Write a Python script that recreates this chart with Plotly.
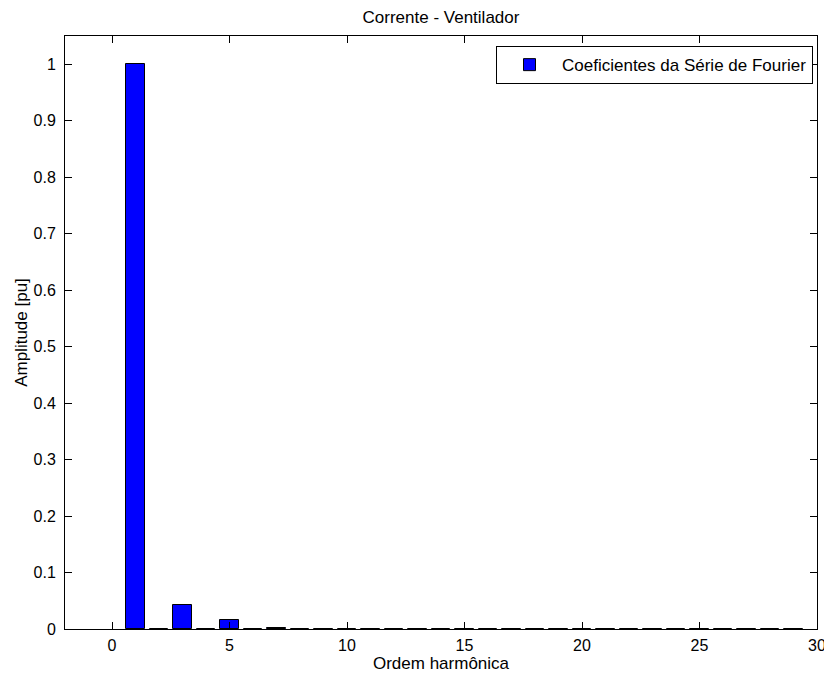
import plotly.graph_objects as go

orders = list(range(1, 30))
amplitudes = [1.0, 0.0005, 0.0425, 0.0006, 0.0165, 0.0005, 0.0025, 0.0005, 0.0008,
              0.0005, 0.0006, 0.0004, 0.0005, 0.0004, 0.0005, 0.0004, 0.0004, 0.0004,
              0.0004, 0.0004, 0.0004, 0.0004, 0.0004, 0.0004, 0.0004, 0.0004, 0.0004,
              0.0004, 0.0004]
x_ticks = [0, 5, 10, 15, 20, 25, 30]
y_ticks = [0, 0.1, 0.2, 0.3, 0.4, 0.5, 0.6, 0.7, 0.8, 0.9, 1]
y_tick_text = ["0", "0.1", "0.2", "0.3", "0.4", "0.5", "0.6", "0.7", "0.8", "0.9", "1"]

family = "Liberation Sans, Arial, Helvetica, sans-serif"
tick_font = dict(family=family, size=16, color="black")
label_font = dict(family=family, size=17, color="black")

fig = go.Figure()
fig.add_trace(go.Bar(
    x=orders, y=amplitudes, width=0.8,
    marker=dict(color="#0000FF", line=dict(color="black", width=1)),
    name="Coeficientes da Série de Fourier",
))

axis_common = dict(
    showline=True, linecolor="black", linewidth=1, mirror="ticks",
    ticks="inside", ticklen=7, tickcolor="black", showgrid=False, zeroline=False,
    tickfont=tick_font, automargin=False,
)
fig.update_layout(
    width=824, height=667,
    margin=dict(l=57, r=15, t=28, b=46),
    paper_bgcolor="white", plot_bgcolor="white",
    font=label_font,
    title=dict(text="Corrente - Ventilador", x=0.5, xanchor="center", xref="paper",
               y=1 - 9 / 667, yanchor="middle", font=label_font),
    xaxis=dict(range=[-2, 30], tickvals=x_ticks, ticklabelstandoff=2,
               title=dict(text="Ordem harmônica", standoff=2, font=label_font), **axis_common),
    yaxis=dict(range=[0, 1.05], tickvals=y_ticks, ticktext=y_tick_text, ticklabelstandoff=5,
               title=dict(text="Amplitude [pu]", standoff=1, font=label_font), **axis_common),
    showlegend=True,
    legend=dict(x=0.9947, xanchor="right", y=0.983, yanchor="top", bordercolor="black", borderwidth=1,
                bgcolor="white", font=label_font, itemwidth=55),
    bargap=0,
)
fig.write_html("out.html")
